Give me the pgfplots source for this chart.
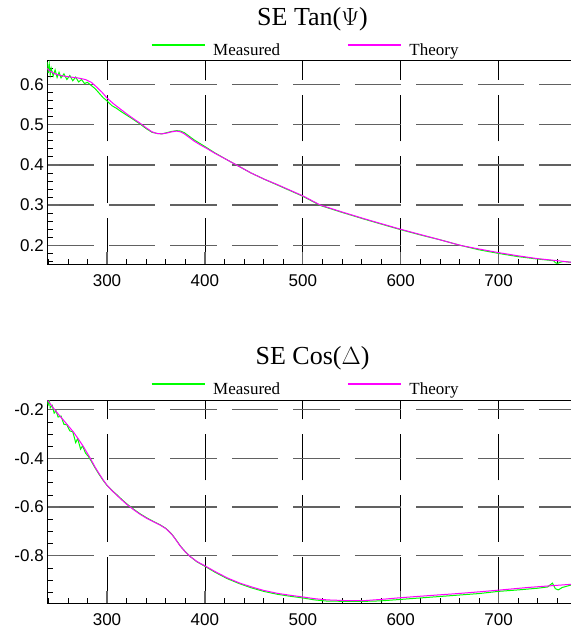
\documentclass[border=0pt]{standalone}
\usepackage{pgfplots}
\pgfplotsset{compat=1.18}
\usepackage{fontspec}
\setmainfont{Liberation Serif}
\newfontfamily\arial{Liberation Sans}
\definecolor{meas}{RGB}{0,255,0}
\definecolor{theo}{RGB}{255,0,255}
\pgfplotsset{
  secommon/.style={
    scale only axis, width=525.7pt, height=203.3pt,
    xmin=239, xmax=776,
    xtick={300,400,500,600,700},
    minor xtick={240,260,280,320,340,360,380,420,440,460,480,520,540,560,580,620,640,660,680,720,740,760},
    tick pos=left, tick align=inside,
    grid=major,
    major x grid style={black, line width=0.8pt, dash pattern=on 46.5pt off 15pt},
    major y grid style={black!62, line width=1.3pt, dash pattern=on 46.5pt off 15pt},
    axis line style={black, line width=1pt},
    major tick length=12pt, minor tick length=5.5pt,
    major tick style={black!60, line width=1.3pt},
    minor tick style={black, line width=0.7pt},
    /pgf/number format/assume math mode=true,
    ticklabel style={font=\arial\fontsize{17}{19}\selectfont},
    xticklabel style={yshift=-7pt},
    xticklabel={\pgfmathprintnumber[fixed,precision=0]{\tick}},
    title style={font=\fontsize{26}{30}\selectfont, at={(axis description cs:0.5045,1.146)}, anchor=base, inner sep=0pt},
    legend columns=2,
    legend style={draw=none, fill=none, inner sep=0pt, outer sep=0pt,
      at={(axis description cs:0.1973,1.054)}, anchor=west,
      nodes={inner sep=0pt, font=\fontsize{17}{20}\selectfont},
      /tikz/every odd column/.append style={column sep=8pt},
      /tikz/every even column/.append style={column sep=67pt}},
  },
  measimg/.style={legend image code/.code={\draw[draw={rgb,255:red,0;green,255;blue,0}, line width=1.2pt] (0pt,5pt) -- (53pt,5pt);}},
  theoimg/.style={legend image code/.code={\draw[draw={rgb,255:red,255;green,0;blue,255}, line width=1.2pt] (0pt,5pt) -- (53pt,5pt);}},
}
\begin{document}
\begin{tikzpicture}
\path[use as bounding box] (0,0) rectangle (571pt,633pt);
\begin{axis}[secommon, at={(47.3pt,368.7pt)}, anchor=south west,
  title={SE Tan($\Psi$)},
  ymin=0.153, ymax=0.658,
  ytick={0.2,0.3,0.4,0.5,0.6},
  minor ytick={0.16,0.18,0.22,0.24,0.26,0.28,0.32,0.34,0.36,0.38,0.42,0.44,0.46,0.48,0.52,0.54,0.56,0.58,0.62,0.64},
  yticklabel={\pgfmathprintnumber[fixed,fixed zerofill,precision=1]{\tick}},
]
\addplot[meas, line width=1pt, measimg] coordinates {
(239,0.655) (240,0.628) (241,0.650) (242,0.624) (243,0.640) (245,0.621) (247,0.636) (249,0.617)
(251,0.630) (253,0.616) (256,0.626) (259,0.612) (262,0.622) (265,0.609) (268,0.618) (271,0.606)
(274,0.612) (277,0.602) (280,0.605) (284,0.597) (288,0.589) (292,0.578) (296,0.567) (300,0.559)
(305,0.547) (310,0.540) (314,0.533) (321,0.522) (328,0.511) (334,0.501) (340,0.490) (346,0.481)
(351,0.478) (356,0.477) (361,0.480) (366,0.483) (371,0.485) (375,0.484) (379,0.480) (384,0.471)
(389,0.462) (395,0.453) (401,0.444) (410,0.430) (423,0.412) (435,0.396) (447,0.380) (460,0.365)
(474,0.350) (487,0.336) (500,0.322) (518,0.299) (540,0.282) (563,0.265) (580,0.253) (600,0.239)
(620,0.226) (640,0.214) (661,0.200) (680,0.189) (700,0.180) (720,0.172) (740,0.166) (752,0.163)
(756,0.162) (758,0.157) (760,0.155) (763,0.158) (766,0.160) (774,0.158)
};
\addlegendentry{Measured}
\addplot[theo, line width=1pt, theoimg] coordinates {
(239,0.640) (241,0.634) (246,0.627) (252,0.622) (260,0.619) (270,0.616) (278,0.612) (284,0.605)
(290,0.592) (295,0.580) (300,0.566) (307,0.551) (314,0.538) (321,0.525) (328,0.513) (334,0.503)
(340,0.492) (346,0.482) (351,0.478) (356,0.477) (361,0.479) (366,0.482) (371,0.484) (375,0.482)
(379,0.477) (384,0.468) (389,0.459) (395,0.450) (401,0.442) (410,0.429) (423,0.412) (435,0.396)
(447,0.380) (460,0.365) (474,0.351) (487,0.337) (500,0.323) (518,0.300) (540,0.283) (563,0.266)
(580,0.254) (600,0.240) (620,0.227) (640,0.214) (661,0.200) (680,0.191) (700,0.182) (720,0.174)
(740,0.167) (760,0.162) (774,0.158)
};
\addlegendentry{Theory}
\end{axis}
\begin{axis}[secommon, at={(47.3pt,29.7pt)}, anchor=south west,
  title={SE Cos($\Delta$)},
  ymin=-0.995, ymax=-0.160,
  ytick={-0.8,-0.6,-0.4,-0.2},
  minor ytick={-0.95,-0.9,-0.85,-0.75,-0.7,-0.65,-0.55,-0.5,-0.45,-0.35,-0.3,-0.25},
  yticklabel={\pgfmathprintnumber[fixed,fixed zerofill,precision=1]{\tick}},
]
\addplot[meas, line width=1pt, measimg] coordinates {
(239,-0.165) (240,-0.178) (241,-0.160) (242,-0.192) (244,-0.182) (246,-0.214) (248,-0.205)
(250,-0.230) (253,-0.226) (256,-0.260) (259,-0.262) (262,-0.287) (265,-0.290) (268,-0.335)
(270,-0.318) (273,-0.362) (275,-0.348) (278,-0.378) (281,-0.392) (284,-0.412) (288,-0.440)
(292,-0.466) (296,-0.490) (300,-0.511) (305,-0.531) (310,-0.549) (315,-0.568) (320,-0.586)
(327,-0.608) (334,-0.628) (341,-0.645) (348,-0.660) (354,-0.672) (360,-0.687) (364,-0.702)
(367,-0.715) (371,-0.737) (375,-0.760) (380,-0.783) (385,-0.803) (392,-0.825) (400,-0.843)
(411,-0.869) (423,-0.894) (435,-0.914) (447,-0.931) (460,-0.946) (474,-0.958) (487,-0.966)
(500,-0.973) (512,-0.981) (525,-0.986) (545,-0.987) (563,-0.987) (580,-0.985) (600,-0.979)
(620,-0.973) (640,-0.967) (660,-0.961) (680,-0.955) (700,-0.946) (720,-0.940) (740,-0.933)
(750,-0.928) (755,-0.912) (758,-0.935) (761,-0.940) (765,-0.930) (774,-0.920)
};
\addlegendentry{Measured}
\addplot[theo, line width=1pt, theoimg] coordinates {
(239,-0.160) (241,-0.170) (246,-0.197) (251,-0.222) (256,-0.245) (261,-0.269) (266,-0.293)
(271,-0.322) (276,-0.352) (283,-0.400) (288,-0.437) (292,-0.463) (296,-0.488) (300,-0.510)
(305,-0.532) (310,-0.551) (315,-0.570) (320,-0.588) (327,-0.610) (334,-0.630) (341,-0.647)
(348,-0.661) (354,-0.673) (360,-0.688) (364,-0.703) (367,-0.716) (371,-0.738) (375,-0.761)
(380,-0.784) (385,-0.803) (392,-0.824) (400,-0.841) (411,-0.866) (423,-0.891) (435,-0.911)
(447,-0.927) (460,-0.942) (474,-0.954) (487,-0.962) (500,-0.969) (512,-0.976) (525,-0.981)
(545,-0.984) (563,-0.984) (580,-0.979) (600,-0.972) (620,-0.966) (637,-0.961) (655,-0.956)
(674,-0.950) (700,-0.941) (730,-0.930) (750,-0.924) (774,-0.917)
};
\addlegendentry{Theory}
\end{axis}
\end{tikzpicture}
\end{document}
